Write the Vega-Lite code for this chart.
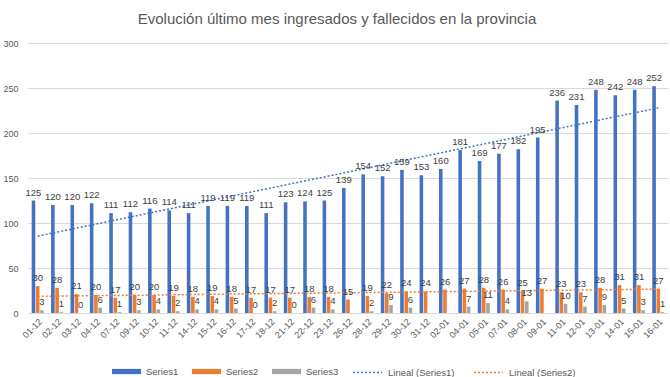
{
  "$schema": "https://vega.github.io/schema/vega-lite/v6.json",
  "width": 640,
  "height": 270,
  "autosize": "none",
  "padding": {"left": 28, "top": 43, "right": 2, "bottom": 64},
  "background": "white",
  "title": {"text": "Evolución último mes ingresados y fallecidos en la provincia", "fontSize": 15, "font": "Liberation Sans", "fontWeight": "normal", "color": "#595959", "anchor": "middle", "offset": 12, "dx": -11},
  "config": {"view": {"stroke": null}, "font": "Liberation Sans"},
  "datasets": {
    "tbl": [
      {"d": "01-12", "i": 1, "Series1": 125, "Series2": 30, "Series3": 3},
      {"d": "02-12", "i": 2, "Series1": 120, "Series2": 28, "Series3": 1},
      {"d": "03-12", "i": 3, "Series1": 120, "Series2": 21, "Series3": 0},
      {"d": "04-12", "i": 4, "Series1": 122, "Series2": 20, "Series3": 6},
      {"d": "07-12", "i": 5, "Series1": 111, "Series2": 17, "Series3": 1},
      {"d": "09-12", "i": 6, "Series1": 112, "Series2": 20, "Series3": 3},
      {"d": "10-12", "i": 7, "Series1": 116, "Series2": 20, "Series3": 4},
      {"d": "11-12", "i": 8, "Series1": 114, "Series2": 19, "Series3": 2},
      {"d": "14-12", "i": 9, "Series1": 111, "Series2": 18, "Series3": 4},
      {"d": "15-12", "i": 10, "Series1": 119, "Series2": 19, "Series3": 4},
      {"d": "16-12", "i": 11, "Series1": 119, "Series2": 18, "Series3": 5},
      {"d": "17-12", "i": 12, "Series1": 119, "Series2": 17, "Series3": 0},
      {"d": "18-12", "i": 13, "Series1": 111, "Series2": 17, "Series3": 2},
      {"d": "21-12", "i": 14, "Series1": 123, "Series2": 17, "Series3": 0},
      {"d": "22-12", "i": 15, "Series1": 124, "Series2": 18, "Series3": 6},
      {"d": "23-12", "i": 16, "Series1": 125, "Series2": 18, "Series3": 4},
      {"d": "26-12", "i": 17, "Series1": 139, "Series2": 15, "Series3": null},
      {"d": "28-12", "i": 18, "Series1": 154, "Series2": 19, "Series3": 2},
      {"d": "29-12", "i": 19, "Series1": 152, "Series2": 22, "Series3": 9},
      {"d": "30-12", "i": 20, "Series1": 159, "Series2": 24, "Series3": 6},
      {"d": "31-12", "i": 21, "Series1": 153, "Series2": 24, "Series3": null},
      {"d": "02-01", "i": 22, "Series1": 160, "Series2": 26, "Series3": null},
      {"d": "04-01", "i": 23, "Series1": 181, "Series2": 27, "Series3": 7},
      {"d": "05-01", "i": 24, "Series1": 169, "Series2": 28, "Series3": 11},
      {"d": "07-01", "i": 25, "Series1": 177, "Series2": 26, "Series3": 4},
      {"d": "08-01", "i": 26, "Series1": 182, "Series2": 25, "Series3": 13},
      {"d": "09-01", "i": 27, "Series1": 195, "Series2": 27, "Series3": null},
      {"d": "11-01", "i": 28, "Series1": 236, "Series2": 23, "Series3": 10},
      {"d": "12-01", "i": 29, "Series1": 231, "Series2": 23, "Series3": 7},
      {"d": "13-01", "i": 30, "Series1": 248, "Series2": 28, "Series3": 9},
      {"d": "14-01", "i": 31, "Series1": 242, "Series2": 31, "Series3": 5},
      {"d": "15-01", "i": 32, "Series1": 248, "Series2": 31, "Series3": 3},
      {"d": "16-01", "i": 33, "Series1": 252, "Series2": 27, "Series3": 1}
    ]
  },
  "data": {"name": "tbl"},
  "layer": [
    {
      "transform": [{"fold": ["Series1", "Series2", "Series3"], "as": ["key", "value"]}],
      "mark": {"type": "bar"},
      "encoding": {
        "x": {
          "field": "d", "type": "nominal", "title": null,
          "scale": {"domain": ["01-12","02-12","03-12","04-12","07-12","09-12","10-12","11-12","14-12","15-12","16-12","17-12","18-12","21-12","22-12","23-12","26-12","28-12","29-12","30-12","31-12","02-01","04-01","05-01","07-01","08-01","09-01","11-01","12-01","13-01","14-01","15-01","16-01"], "paddingInner": 0.38, "paddingOuter": 0.19},
          "axis": {"labelAngle": -45, "labelFontSize": 9, "labelColor": "#595959", "ticks": false, "domainColor": "#D9D9D9", "labelPadding": 4, "grid": false}
        },
        "xOffset": {"field": "key", "type": "nominal", "scale": {"domain": ["Series1", "Series2", "Series3"], "paddingInner": 0.15}},
        "y": {
          "field": "value", "type": "quantitative", "title": null,
          "scale": {"domain": [0, 300], "nice": false},
          "axis": {"values": [0, 50, 100, 150, 200, 250, 300], "labelFontSize": 9, "labelColor": "#595959", "ticks": false, "domain": false, "gridColor": "#D9D9D9", "labelPadding": 10}
        },
        "fill": {
          "field": "key", "type": "nominal",
          "scale": {"domain": ["Series1", "Series2", "Series3"], "range": ["#4472C4", "#ED7D31", "#A5A5A5"]},
          "legend": {"orient": "none", "legendX": 84, "legendY": 314, "direction": "horizontal", "columns": 3, "title": null, "symbolType": "M-1,-0.18H1V0.18H-1Z", "symbolSize": 841, "symbolStrokeWidth": 0, "labelFontSize": 9.5, "labelColor": "#595959", "columnPadding": 13, "labelOffset": 5}
        }
      }
    },
    {
      "transform": [
        {"fold": ["Series1", "Series2"], "as": ["key", "value"]},
        {"regression": "value", "on": "i", "groupby": ["key"]},
        {"lookup": "i", "from": {"data": {"name": "tbl"}, "key": "i", "fields": ["d"]}}
      ],
      "mark": {"type": "line", "strokeDash": [2, 2], "strokeWidth": 1.5},
      "encoding": {
        "x": {"field": "d", "type": "nominal"},
        "y": {"field": "value", "type": "quantitative"},
        "stroke": {
          "field": "key", "type": "nominal",
          "scale": {"domain": ["Series1", "Series2"], "range": ["#4472C4", "#ED7D31"]},
          "legend": {"orient": "none", "legendX": 324, "legendY": 314, "direction": "horizontal", "columns": 2, "title": null, "symbolType": "stroke", "symbolSize": 841, "symbolDash": [2, 2], "symbolStrokeWidth": 1.5, "labelFontSize": 9.5, "labelColor": "#595959", "columnPadding": 16, "labelOffset": 5, "labelExpr": "'Lineal (' + datum.label + ')'"}
        }
      }
    },
    {
      "transform": [{"fold": ["Series1", "Series2", "Series3"], "as": ["key", "value"]}],
      "mark": {"type": "text", "baseline": "bottom", "dy": -3, "fontSize": 9.5, "color": "#404040"},
      "encoding": {
        "x": {"field": "d", "type": "nominal"},
        "xOffset": {"field": "key", "type": "nominal"},
        "y": {"field": "value", "type": "quantitative"},
        "text": {"field": "value", "type": "quantitative"}
      }
    }
  ]
}
